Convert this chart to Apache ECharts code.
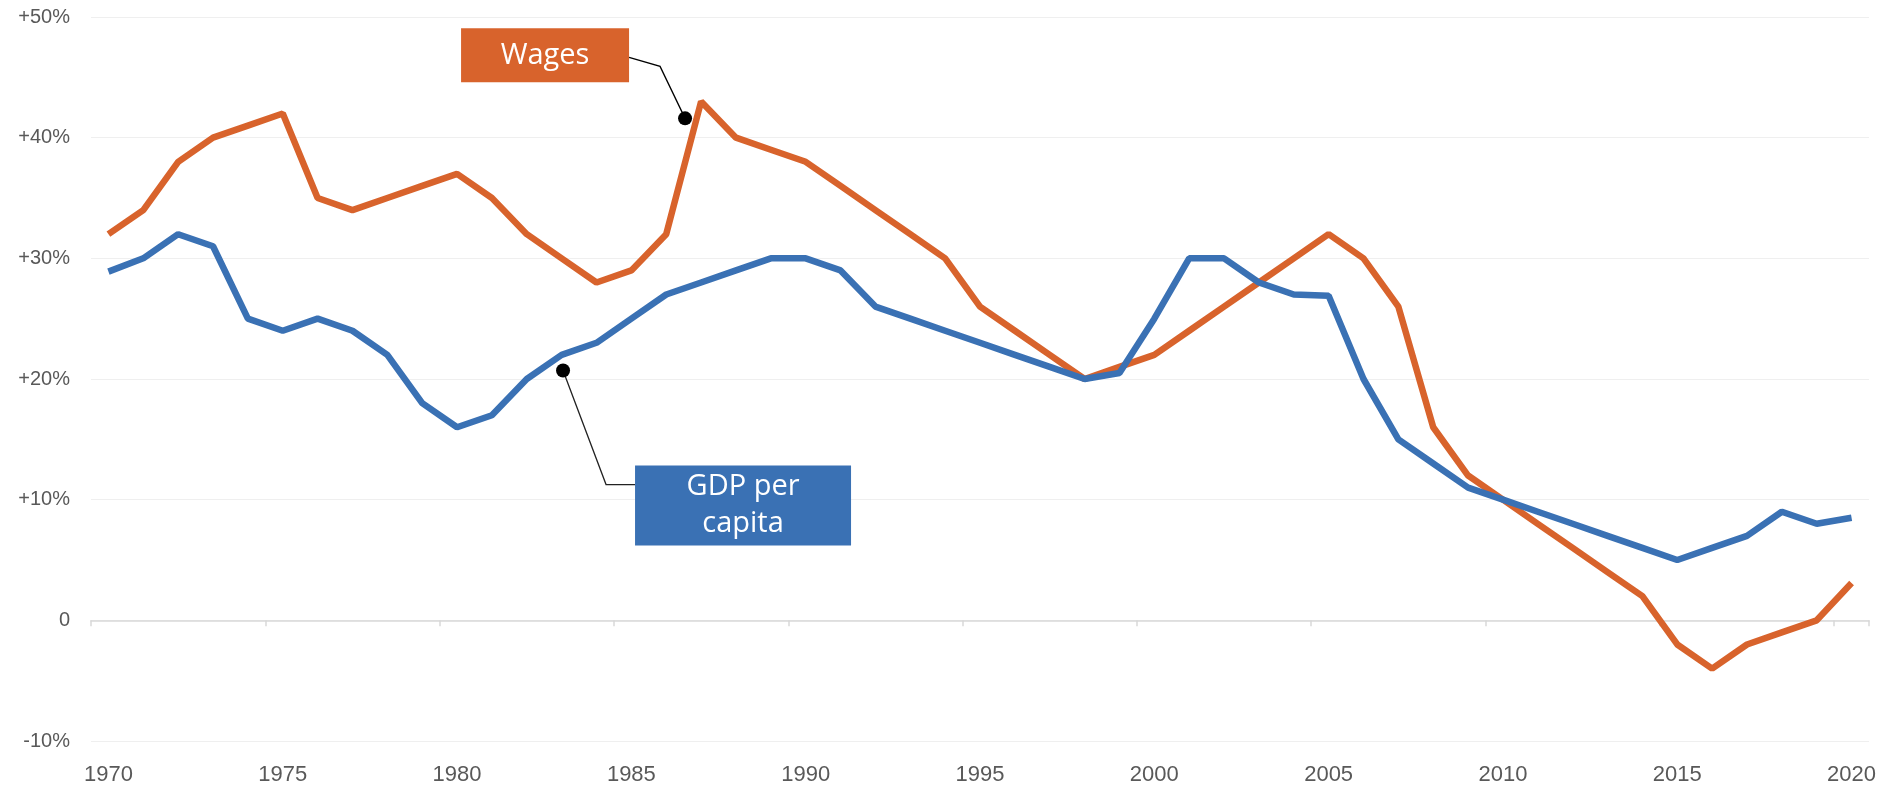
<!DOCTYPE html>
<html>
<head>
<meta charset="utf-8">
<title>Wages vs GDP per capita</title>
<script src="https://cdn.jsdelivr.net/npm/echarts@6/dist/echarts.min.js"></script>
<style>
	html, body { margin: 0; padding: 0; background: #fff; }
	#lineChart { width: 1887px; height: 787px; }
</style>
</head>
<body>
<div id="lineChart"></div>
<script>
// 数据
var years = ['1970','1971','1972','1973','1974','1975','1976','1977','1978','1979',
	'1980','1981','1982','1983','1984','1985','1986','1987','1988','1989',
	'1990','1991','1992','1993','1994','1995','1996','1997','1998','1999',
	'2000','2001','2002','2003','2004','2005','2006','2007','2008','2009',
	'2010','2011','2012','2013','2014','2015','2016','2017','2018','2019','2020'];

var wages = [32, 34, 38, 40, 41, 42, 35, 34, 35, 36,
	37, 35, 32, 30, 28, 29, 32, 43, 40, 39,
	38, 36, 34, 32, 30, 26, 24, 22, 20, 21,
	22, 24, 26, 28, 30, 32, 30, 26, 16, 12,
	10, 8, 6, 4, 2, -2, -4, -2, -1, 0, 3.1];

var gdpPerCapita = [28.9, 30, 32, 31, 25, 24, 25, 24, 22, 18,
	16, 17, 20, 22, 23, 25, 27, 28, 29, 30,
	30, 29, 26, 25, 24, 23, 22, 21, 20, 20.5,
	25, 30, 30, 28, 27, 26.9, 20, 15, 13, 11,
	10, 9, 8, 7, 6, 5, 6, 7, 9, 8, 8.5];

var yTicks = [-10, 0, 10, 20, 30, 40, 50];

var ORANGE = '#d8632c';
var BLUE = '#3a71b4';

var myChart = echarts.init(document.getElementById('lineChart'));

function yLabel(v) {
	if (v > 0) return '+' + v + '%';
	if (v == 0) return '0';
	return v + '%';
}

function lineChart() {
	var option = {
		animation: false,
		grid: {
			left: 91,
			right: 18,
			top: 17,
			bottom: 46
		},
		xAxis: [
			{
				// 零线 + 刻度
				type: 'category',
				data: years,
				boundaryGap: true,
				axisLine: { onZero: true, lineStyle: { color: '#d9d9d9', width: 1.5 } },
				axisTick: { show: true, interval: 4, length: 6, lineStyle: { color: '#d9d9d9', width: 1.5 } },
				axisLabel: { show: false }
			},
			{
				// 底部年份标签
				type: 'category',
				data: years,
				position: 'bottom',
				boundaryGap: true,
				axisLine: { show: false, onZero: false },
				axisTick: { show: false },
				axisLabel: {
					interval: 4,
					margin: 23,
					color: '#595959',
					fontSize: 22,
					fontFamily: '"Liberation Sans Narrow", "Liberation Sans", sans-serif'
				}
			}
		],
		yAxis: {
			type: 'value',
			min: yTicks[0],
			max: yTicks[yTicks.length - 1],
			interval: 10,
			axisLine: { show: false },
			axisTick: { show: false },
			splitLine: { lineStyle: { color: '#efefef', width: 1.2 } },
			axisLabel: {
				margin: 21,
				color: '#595959',
				fontSize: 20,
				fontFamily: '"Liberation Sans", Arial, sans-serif',
				formatter: yLabel
			}
		},
		series: [
			{
				name: 'Wages',
				type: 'line',
				xAxisIndex: 1,
				data: wages,
				showSymbol: false,
				lineStyle: { color: ORANGE, width: 6.5 },
				itemStyle: { color: ORANGE }
			},
			{
				name: 'GDP per capita',
				type: 'line',
				xAxisIndex: 1,
				data: gdpPerCapita,
				showSymbol: false,
				lineStyle: { color: BLUE, width: 6.5 },
				itemStyle: { color: BLUE }
			}
		]
	};
	myChart.setOption(option);
}

// 按类目序号(可带小数)取像素坐标
function toPixel(idx, val) {
	var i0 = Math.floor(idx);
	var p0 = myChart.convertToPixel({ xAxisIndex: 1, yAxisIndex: 0 }, [i0, val]);
	var p1 = myChart.convertToPixel({ xAxisIndex: 1, yAxisIndex: 0 }, [i0 + 1, val]);
	var t = idx - i0;
	return [p0[0] + (p1[0] - p0[0]) * t, p0[1]];
}

// 标注框
function annotations() {
	var boxFont = '"Open Sans", "Noto Sans", sans-serif';
	var w = toPixel(16.54, 41.6);
	var g = toPixel(13.04, 20.7);
	var graphic = [
		{
			type: 'polyline',
			shape: { points: [[w[0], w[1]], [w[0] - 25, w[1] - 52], [w[0] - 56, w[1] - 61]] },
			style: { stroke: '#000', lineWidth: 1.3, fill: null }
		},
		{
			type: 'rect',
			shape: { x: w[0] - 224, y: w[1] - 90, width: 168, height: 54 },
			style: { fill: ORANGE }
		},
		{
			type: 'text',
			x: w[0] - 140, y: w[1] - 63,
			style: { text: 'Wages', fill: '#fff', font: '29px ' + boxFont, align: 'center', verticalAlign: 'middle' }
		},
		{
			type: 'circle',
			shape: { cx: w[0], cy: w[1], r: 7 },
			style: { fill: '#000' }
		},
		{
			type: 'polyline',
			shape: { points: [[g[0], g[1]], [g[0] + 43, g[1] + 114], [g[0] + 72, g[1] + 114]] },
			style: { stroke: '#222', lineWidth: 1.3, fill: null }
		},
		{
			type: 'rect',
			shape: { x: g[0] + 72, y: g[1] + 95, width: 216, height: 80 },
			style: { fill: BLUE }
		},
		{
			type: 'text',
			x: g[0] + 180, y: g[1] + 135,
			style: { text: 'GDP per\ncapita', fill: '#fff', font: '29px ' + boxFont, lineHeight: 37, align: 'center', verticalAlign: 'middle' }
		},
		{
			type: 'circle',
			shape: { cx: g[0], cy: g[1], r: 7 },
			style: { fill: '#000' }
		}
	];
	myChart.setOption({ graphic: graphic });
}

lineChart();
annotations();
</script>
</body>
</html>
